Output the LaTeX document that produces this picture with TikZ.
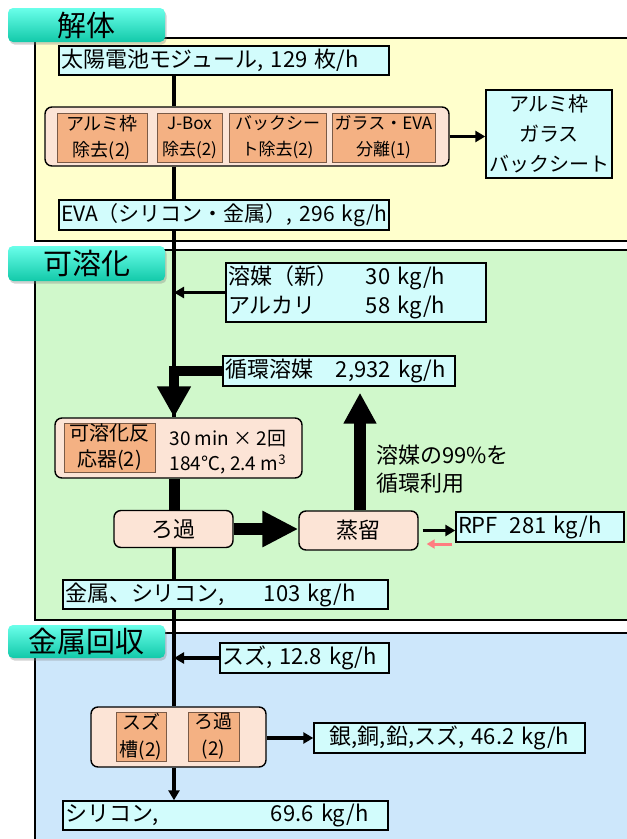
\documentclass[tikz,border=0pt]{standalone}
\usepackage{fontspec}
\setmainfont{Noto Sans CJK JP}
\usetikzlibrary{arrows.meta,shadows}
\definecolor{panelY}{HTML}{FFFFCC}
\definecolor{panelG}{HTML}{D0F8CB}
\definecolor{panelB}{HTML}{CDE7FB}
\definecolor{boxC}{HTML}{D2FCFC}
\definecolor{peach}{HTML}{FCE4D6}
\definecolor{unitO}{HTML}{F4B183}
\definecolor{unitEdge}{HTML}{7A5A46}
\definecolor{tabTop}{HTML}{6AFFEA}
\definecolor{tabBot}{HTML}{12C9A9}
\definecolor{pinkArrow}{HTML}{FF7C80}
\newcommand{\fs}[2]{\fontsize{#1}{#2}\selectfont}
\tikzset{
  sectab/.style={rounded corners=5pt, top color=tabTop, bottom color=tabBot,
    minimum width=157pt, inner sep=0pt, font=\fs{29}{30},
    drop shadow={opacity=0.35,shadow xshift=1.5pt,shadow yshift=-2.5pt}},
  flow/.style={draw, fill=boxC, line width=1.4pt, inner xsep=2pt, inner ysep=0pt,
    align=left, font=\fs{22}{29}},
  procgroup/.style={draw, fill=peach, line width=1.4pt, rounded corners=7pt, inner sep=0pt},
  unitbox/.style={draw=unitEdge, fill=unitO, line width=1pt, inner sep=0pt,
    align=center, font=\fs{17}{26}},
  feed/.style={line width=3.5pt, -{Triangle[length=10pt,width=11pt]}},
  trunkline/.style={line width=3.5pt},
}
\begin{document}
\begin{tikzpicture}[x=1pt,y=-1pt]
  % 画面
  \fill[white] (0,0) rectangle (627,839);
  \useasboundingbox (0,0) rectangle (627,839);
  \coordinate (trunk) at (174,0);
  \coordinate (up) at (360,0);
  % 区画
  \begin{scope}
    \clip (0,0) rectangle (627,839);
    \filldraw[fill=panelY, line width=2pt] (35,38) rectangle (650,241);
    \filldraw[fill=panelG, line width=2pt] (35,250) rectangle (650,620);
    \filldraw[fill=panelB, line width=2pt] (35,633) rectangle (650,860);
  \end{scope}
  \node[sectab, minimum height=34pt] (tab1) at (86.5,25) {解体};
  \node[sectab, minimum height=35pt] (tab2) at (86.5,263.5) {可溶化};
  \node[sectab, minimum height=33pt] (tab3) at (86.5,641.5) {金属回収};

  % 解体
  \node[flow, text width=326pt, minimum height=29pt] (mod) at (224,60.5) {太陽電池モジュール, 129 枚/h};
  \node[procgroup, minimum width=404pt, minimum height=59pt] (grp1) at (247,136.5) {};
  \node[unitbox, minimum width=90pt, minimum height=49pt, font=\fs{18}{26}] (u1) at (102,137.5) {アルミ枠\\除去(2)};
  \node[unitbox, minimum width=65pt, minimum height=49pt] (u2) at (189.5,137.5) {J-Box\\除去(2)};
  \node[unitbox, minimum width=97pt, minimum height=49pt] (u3) at (277.5,137.5) {バックシー\\ト除去(2)};
  \node[unitbox, minimum width=103pt, minimum height=49pt] (u4) at (383.5,137.5) {ガラス・EVA\\分離(1)};
  \node[flow, align=center, text width=122pt, minimum height=88pt, font=\fs{20}{30}] (out1) at (549,134) {アルミ枠\\ガラス\\バックシート};
  \node[flow, text width=326pt, minimum height=30pt, font=\fs{21}{29}] (eva) at (224,215) {EVA（シリコン・金属）, 296 kg/h};

  % 可溶化
  \node[flow, text width=256pt, minimum height=59pt] (solv) at (356,292.5)
    {\makebox[138pt][l]{溶媒（新）}30 kg/h\\\makebox[138pt][l]{アルカリ}58 kg/h};
  \node[flow, text width=228pt, minimum height=30pt] (recyc) at (339,371)
    {\makebox[111pt][l]{循環溶媒}2,932 kg/h};
  \node[procgroup, minimum width=247pt, minimum height=60pt] (reactor) at (178.5,448) {};
  \node[unitbox, minimum width=91pt, minimum height=49pt, font=\fs{20}{26}] (runit) at (109.5,447.5) {可溶化反\\応器(2)};
  \node[align=center, font=\fs{19}{25}] (rcond) at (228,452) {30 min × 2回\\184℃, 2.4 m\textsuperscript{3}};
  \node[procgroup, minimum width=119pt, minimum height=37pt, font=\fs{22}{24}] (filt) at (173.5,529) {ろ過};
  \node[procgroup, minimum width=119pt, minimum height=39pt, font=\fs{22}{24}] (dist) at (358.5,530.5) {蒸留};
  \node[anchor=west, align=left, inner sep=0pt, font=\fs{22}{28}] (note) at (376,469) {溶媒の99\%を\\循環利用};
  \node[flow, text width=164pt, minimum height=30pt] (rpf) at (540,527) {\makebox[52pt][l]{RPF}281 kg/h};
  \node[flow, text width=321pt, minimum height=29pt] (metal) at (225.5,594.5)
    {\makebox[199pt][l]{金属、シリコン,}103 kg/h};

  % 金属回収
  \node[flow, text width=165pt, minimum height=30pt] (tin) at (304.5,658) {スズ, 12.8 kg/h};
  \node[procgroup, minimum width=175pt, minimum height=60pt] (grp3) at (178.5,737) {};
  \node[unitbox, minimum width=50pt, minimum height=49pt, font=\fs{19}{27}] (u5) at (141,736.5) {スズ\\槽(2)};
  \node[unitbox, minimum width=51pt, minimum height=49pt, font=\fs{19}{27}] (u6) at (213.5,736.5) {ろ過\\(2)};
  \node[flow, align=center, text width=267pt, minimum height=30pt] (ag) at (449.5,738) {銀,銅,鉛,スズ, 46.2 kg/h};
  \node[flow, text width=321pt, minimum height=29pt] (si) at (225.5,815.5)
    {\makebox[206pt][l]{シリコン,}69.6 kg/h};

  % 主流
  \draw[trunkline] (mod.south -| trunk) -- (grp1.north -| trunk);
  \draw[trunkline] (grp1.south -| trunk) -- (eva.north -| trunk);
  \draw[trunkline] (eva.south -| trunk) -- (reactor.north -| trunk);
  \draw[trunkline] (filt.south -| trunk) -- (metal.north -| trunk);
  \draw[trunkline] (metal.south -| trunk) -- (grp3.north -| trunk);
  \draw[feed] (grp3.south -| trunk) -- (si.north -| trunk);
  % 投入・排出
  \draw[feed] (grp1.east) -- (grp1.east -| out1.west);
  \draw[feed] (solv.west) -- (solv.west -| trunk);
  \draw[feed] (tin.west) -- (tin.west -| trunk);
  \draw[feed] (grp3.east |- ag.west) -- (ag.west);
  \draw[feed, shorten <=4pt] (dist.east) -- (dist.east -| rpf.west);
  \coordinate (pk) at (452,544);
  \draw[pinkArrow, line width=3pt, -{Triangle[length=8pt,width=9pt]}] (pk) -- ([xshift=8pt]pk -| dist.east);
  % 溶媒循環
  \draw[line width=10pt, line join=miter, -{Triangle[length=31pt,width=32pt]}]
    (recyc.west) -- (recyc.west -| trunk) -- (reactor.north -| trunk);
  \draw[line width=11pt] (reactor.south -| trunk) -- (filt.north -| trunk);
  \draw[line width=12pt, -{Triangle[length=36pt,width=34pt]}] (filt.east) -- (filt.east -| dist.west);
  \draw[line width=12pt, shorten >=6pt, -{Triangle[length=31pt,width=31pt]}] (dist.north -| up) -- (recyc.south -| up);
\end{tikzpicture}
\end{document}
